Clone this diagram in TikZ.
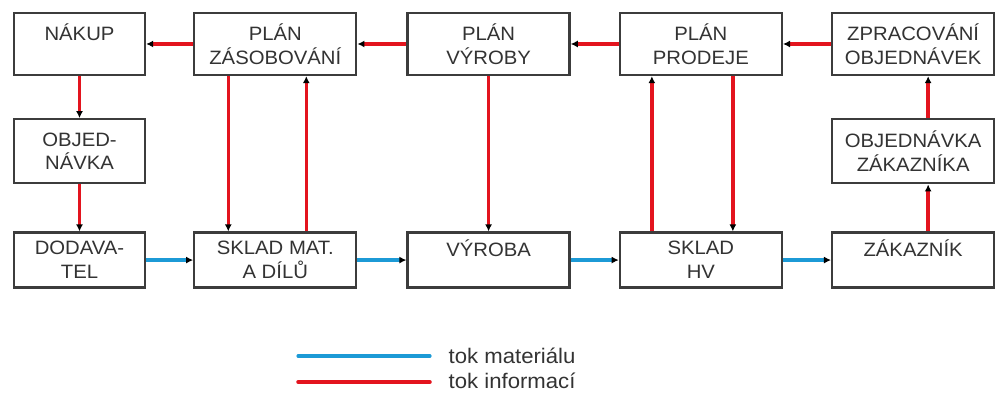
\documentclass[tikz,border=0pt]{standalone}
\usepackage{fontspec}
\setmainfont{Liberation Sans}[FakeStretch=1.05]
\usetikzlibrary{arrows.meta,positioning}
\definecolor{InfoRed}{HTML}{E3141E}
\definecolor{MatBlue}{HTML}{1C9AD6}
\definecolor{Frame}{HTML}{3C3C3C}
\definecolor{Ink}{HTML}{333333}

\begin{document}
\begin{tikzpicture}[
    stage/.style={draw=Frame,line width=1.3pt,fill=white,minimum width=3.24cm,
      minimum height=1.24cm,align=center,text=Ink,inner sep=1pt,
      font=\fontsize{11}{13.6}\selectfont},
    narrow/.style={stage,minimum width=2.62cm},
    mid/.style={minimum height=1.28cm},
    low/.style={minimum height=1.1cm},
    info/.style={draw=InfoRed,line width=2pt,-{Latex[black,length=4pt,width=4pt]}},
    matflow/.style={draw=MatBlue,line width=1.8pt,-{Latex[black,length=4pt,width=4pt]}},
    legend/.style={text=Ink,font=\fontsize{12}{14}\selectfont,anchor=west}
  ]
    \useasboundingbox (0,0) rectangle (19.9,7.92);
    % planning row
    \node[narrow] (nakup) at (1.59,7.04) {NÁKUP\\~};
    \node[stage,right=0.94cm of nakup] (zasob) {PLÁN\\ZÁSOBOVÁNÍ};
    \node[stage,right=0.98cm of zasob] (vyroby) {PLÁN\\VÝROBY};
    \node[stage,right=0.96cm of vyroby] (prodeje) {PLÁN\\PRODEJE};
    \node[stage,right=0.96cm of prodeje] (zprac) {ZPRACOVÁNÍ\\OBJEDNÁVEK};
    % orders
    \node[narrow,mid,below=0.84cm of nakup] (objed) {OBJED-\\NÁVKA};
    \node[stage,mid,below=0.84cm of zprac] (objzak) {OBJEDNÁVKA\\ZÁKAZNÍKA};
    % material row
    \node[narrow,low,below=0.94cm of objed] (dodav) {DODAVA-\\TEL};
    \node[stage,low,right=0.94cm of dodav] (sklad) {SKLAD MAT.\\A DÍLŮ};
    \node[stage,low,right=0.98cm of sklad] (vyroba) {VÝROBA\\~};
    \node[stage,low,right=0.96cm of vyroba] (skladhv) {SKLAD\\HV};
    \node[stage,low,right=0.96cm of skladhv] (zakaznik) {ZÁKAZNÍK\\~};

    \draw[info] (zasob.west) -- (nakup.east);
    \draw[info] (vyroby.west) -- (zasob.east);
    \draw[info] (prodeje.west) -- (vyroby.east);
    \draw[info] (zprac.west) -- (prodeje.east);
    \draw[info] (nakup.south) -- (objed.north);
    \draw[info] (objed.south) -- (dodav.north);
    \draw[info] ([xshift=-0.94cm]zasob.south) -- ([xshift=-0.94cm]sklad.north);
    \draw[info] ([xshift=0.62cm]sklad.north) -- ([xshift=0.62cm]zasob.south);
    \draw[info] (vyroby.south) -- (vyroba.north);
    \draw[info] ([xshift=-0.98cm]skladhv.north) -- ([xshift=-0.98cm]prodeje.south);
    \draw[info] ([xshift=0.64cm]prodeje.south) -- ([xshift=0.64cm]skladhv.north);
    \draw[info] ([xshift=0.3cm]zakaznik.north) -- ([xshift=0.3cm]objzak.south);
    \draw[info] ([xshift=0.3cm]objzak.north) -- ([xshift=0.3cm]zprac.south);

    \draw[matflow] (dodav.east) -- (sklad.west);
    \draw[matflow] (sklad.east) -- (vyroba.west);
    \draw[matflow] (vyroba.east) -- (skladhv.west);
    \draw[matflow] (skladhv.east) -- (zakaznik.west);

    % legend
    \coordinate (lm) at (5.96,0.8);
    \coordinate (li) at (5.96,0.28);
    \draw[MatBlue,line width=1.8pt,line cap=round] (lm) -- ++(2.64,0);
    \draw[InfoRed,line width=2pt,line cap=round] (li) -- ++(2.64,0);
    \node[legend] (lmtext) at (8.85,0.8) {tok materiálu};
    \node[legend] (litext) at (8.85,0.3) {tok informací};
  \end{tikzpicture}
\end{document}
